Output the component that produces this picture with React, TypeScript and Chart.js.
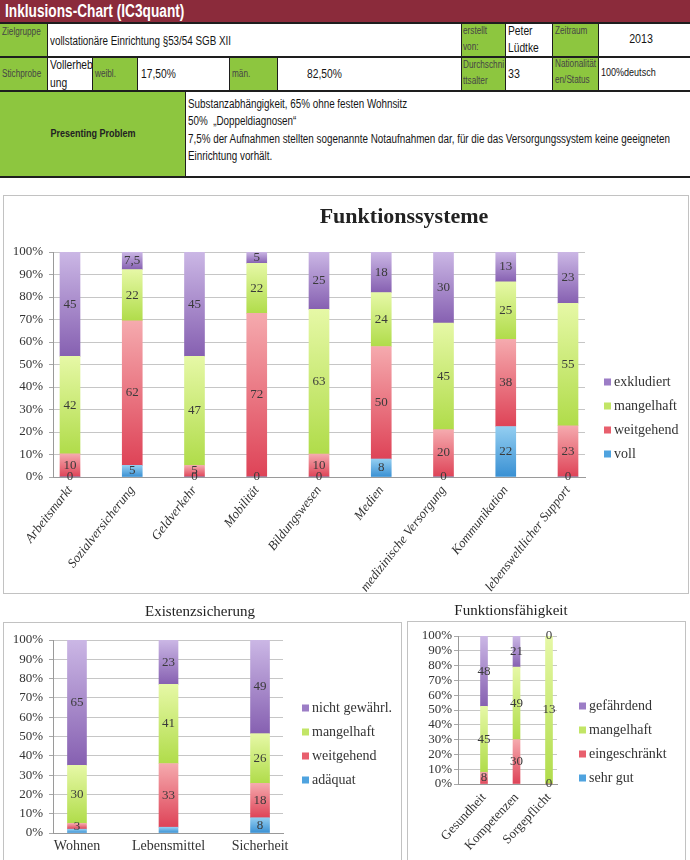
import React, { useEffect, useRef } from 'react';
import { Chart, registerables } from 'chart.js';

Chart.register(...registerables);

const SERIF = '"Liberation Serif", "Times New Roman", serif';
const SANS = '"Liberation Sans", Arial, sans-serif';
Chart.defaults.font.family = SERIF;

// ---------- Funktionssysteme ----------
const fsCategories = [
  'Arbeitsmarkt', 'Sozialversicherung', 'Geldverkehr', 'Mobilität', 'Bildungswesen',
  'Medien', 'medizinische Versorgung', 'Kommunikation', 'lebensweltlicher Support',
];
const fsVoll = [0, 5, 0, 0, 0, 8, 0, 22, 0];
const fsWeitgehend = [10, 62, 5, 72, 10, 50, 20, 38, 23];
const fsMangelhaft = [42, 22, 47, 22, 63, 24, 45, 25, 55];
const fsExkludiert = [45, 7.5, 45, 5, 25, 18, 30, 13, 23];

// ---------- Existenzsicherung ----------
const esCategories = ['Wohnen', 'Lebensmittel', 'Sicherheit'];
const esAdaequat = [2, 3, 8];
const esWeitgehend = [3, 33, 18];
const esMangelhaft = [30, 41, 26];
const esNichtGewaehrl = [65, 23, 49];

// ---------- Funktionsfähigkeit ----------
const ffCategories = ['Gesundheit', 'Kompetenzen', 'Sorgepflicht'];
const ffSehrGut = [null, null, null];
const ffEingeschraenkt = [8, 30, 0];
const ffMangelhaft = [45, 49, 13];
const ffGefaehrdend = [48, 21, 0];

const PAL: Record<string, [string, string, string]> = {
  purple: ['#cbb7e5', '#8660b1', '#9c7dc6'],
  green: ['#e6f8a6', '#b0dc4a', '#c2e566'],
  red: ['#f5aaae', '#de4357', '#e85f6d'],
  blue: ['#93cef1', '#3990d3', '#4fa3df'],
};

function gradientFill(light: string, dark: string) {
  return (c: any) => {
    const chart = c.chart;
    const yScale = chart.scales && chart.scales.y;
    if (c.type !== 'data' || !yScale || !chart.chartArea) return dark;
    const ds = chart.data.datasets;
    const i = c.dataIndex;
    let below = 0;
    for (let k = 0; k < c.datasetIndex; k++) below += (ds[k].data[i] && ds[k].data[i].y) || 0;
    const v = (ds[c.datasetIndex].data[i] && ds[c.datasetIndex].data[i].y) || 0;
    const top = yScale.getPixelForValue(below + v);
    const bottom = yScale.getPixelForValue(below);
    if (!(bottom - top > 0.5)) return dark;
    const g = chart.ctx.createLinearGradient(0, top, 0, bottom);
    g.addColorStop(0, light);
    g.addColorStop(1, dark);
    return g;
  };
}

type SeriesDef = { label: string; values: (number | null)[]; color: [string, string, string]; hidden?: number[] };

function buildDatasets(series: SeriesDef[], barThickness: number) {
  const n = series[0].values.length;
  const totals = Array.from({ length: n }, (_, i) => series.reduce((s, d) => s + (d.values[i] ?? 0), 0));
  return series.map((d) => ({
    label: d.label,
    data: d.values.map((v, i) => ({ x: i, y: v == null ? null : totals[i] ? (v / totals[i]) * 100 : 0 })),
    rawValues: d.values,
    hiddenLabels: d.hidden || [],
    legendColor: d.color[2],
    backgroundColor: gradientFill(d.color[0], d.color[1]),
    borderWidth: 0,
    barThickness,
  }));
}

const valueLabels = {
  id: 'valueLabels',
  afterDatasetsDraw(chart: any, _a: any, opts: any) {
    const ctx = chart.ctx;
    ctx.save();
    ctx.font = opts.font;
    ctx.fillStyle = opts.color;
    ctx.textAlign = 'center';
    ctx.textBaseline = 'middle';
    chart.data.datasets.forEach((ds: any, di: number) => {
      const meta = chart.getDatasetMeta(di);
      meta.data.forEach((el: any, i: number) => {
        const raw = ds.rawValues[i];
        if (raw == null || ds.hiddenLabels.includes(i)) return;
        const p = el.getProps(['x', 'y', 'base'], true);
        if (!isFinite(p.y) || !isFinite(p.base)) return;
        ctx.fillText(String(raw).replace('.', ','), p.x, (p.y + p.base) / 2);
      });
    });
    ctx.restore();
  },
};

const docDecor = {
  id: 'docDecor',
  afterDraw(chart: any, _a: any, opts: any) {
    const ctx = chart.ctx;
    ctx.save();
    if (opts.title) {
      ctx.font = opts.title.font;
      ctx.fillStyle = '#222';
      ctx.textAlign = 'center';
      ctx.textBaseline = 'middle';
      ctx.fillText(opts.title.text, opts.title.x, opts.title.y);
    }
    if (opts.legend) {
      const { x, y, gap, box, font } = opts.legend;
      const items = chart.data.datasets.map((d: any) => ({ label: d.label, color: d.legendColor })).reverse();
      ctx.font = font;
      ctx.textAlign = 'left';
      ctx.textBaseline = 'middle';
      items.forEach((it: any, k: number) => {
        const cy = y + k * gap;
        ctx.fillStyle = it.color;
        ctx.fillRect(x, cy - box / 2, box, box);
        ctx.fillStyle = '#333';
        ctx.fillText(it.label, x + box + 3, cy);
      });
    }
    ctx.restore();
  },
};

type Layout = {
  width: number; height: number; padTop: number; padRight: number;
  yWidth: number; yPadding: number; xHeight: number; xMin: number; xMax: number;
  rotation: number; xFont: any; xPadding: number; barThickness: number;
  title: { text: string; x: number; y: number; font: string };
  legend: { x: number; y: number; gap: number };
};

function makeConfig(categories: string[], series: SeriesDef[], L: Layout): any {
  return {
    type: 'bar',
    data: { datasets: buildDatasets(series, L.barThickness) },
    options: {
      responsive: false,
      animation: false,
      events: [],
      layout: { padding: { top: L.padTop, right: L.padRight, left: 0, bottom: 0 } },
      plugins: {
        legend: { display: false },
        tooltip: { enabled: false },
        title: { display: false },
        docDecor: { title: L.title, legend: { ...L.legend, box: 7, font: `14px ${SERIF}` } },
        valueLabels: { font: `13px ${SERIF}`, color: '#3a3a3a' },
      },
      scales: {
        x: {
          type: 'linear',
          stacked: true,
          bounds: 'data',
          offset: false,
          min: L.xMin,
          max: L.xMax,
          grid: { display: false, drawTicks: false },
          border: { display: true, color: '#9a9a9a' },
          afterBuildTicks: (s: any) => {
            s.ticks = categories.map((_, i) => ({ value: i }));
          },
          ticks: {
            autoSkip: false,
            minRotation: L.rotation,
            maxRotation: L.rotation,
            padding: L.xPadding,
            font: L.xFont,
            color: '#333',
            callback: (v: number) => categories[Math.round(v)] ?? '',
          },
          afterFit: (s: any) => { s.height = L.xHeight; },
        },
        y: {
          stacked: true,
          min: 0,
          max: 100,
          grid: { color: '#c6c6c6', tickLength: 4, tickColor: '#a8a8a8' },
          border: { display: true, color: '#9a9a9a' },
          ticks: {
            stepSize: 10,
            autoSkip: false,
            padding: L.yPadding,
            font: { family: SERIF, size: 13 },
            color: '#333',
            callback: (v: number) => v + '%',
          },
          afterFit: (s: any) => { s.width = L.yWidth; },
        },
      },
    },
    plugins: [docDecor, valueLabels],
  };
}

function ChartCanvas({ left, top, config }: { left: number; top: number; config: () => any }) {
  const ref = useRef<HTMLCanvasElement>(null);
  const cfg = config();
  const w = cfg.__w, h = cfg.__h;
  useEffect(() => {
    const c = config();
    const chart = new Chart(ref.current as HTMLCanvasElement, c);
    return () => chart.destroy();
  }, []);
  return <canvas ref={ref} width={w} height={h} style={{ position: 'absolute', left, top, width: w, height: h }} />;
}

const fsConfig = () => {
  const L: Layout = {
    width: 685, height: 398, padTop: 57, padRight: 103, yWidth: 50, yPadding: 6, xHeight: 116,
    xMin: -0.273, xMax: 8.273, rotation: 52, xFont: { family: SERIF, size: 13, style: 'italic' },
    xPadding: 6, barThickness: 20,
    title: { text: 'Funktionssysteme', x: 401, y: 22, font: `bold 22px ${SERIF}` },
    legend: { x: 601, y: 187, gap: 24 },
  };
  const c = makeConfig(fsCategories, [
    { label: 'voll', values: fsVoll, color: PAL.blue },
    { label: 'weitgehend', values: fsWeitgehend, color: PAL.red },
    { label: 'mangelhaft', values: fsMangelhaft, color: PAL.green },
    { label: 'exkludiert', values: fsExkludiert, color: PAL.purple },
  ], L);
  c.__w = L.width; c.__h = L.height;
  return c;
};

const esConfig = () => {
  const L: Layout = {
    width: 398, height: 260, padTop: 40, padRight: 118, yWidth: 50, yPadding: 6, xHeight: 27,
    xMin: -0.262, xMax: 2.251, rotation: 0, xFont: { family: SERIF, size: 14 },
    xPadding: 5, barThickness: 19,
    title: { text: 'Existenzsicherung', x: 197, y: 12, font: `15px ${SERIF}` },
    legend: { x: 299, y: 108, gap: 24 },
  };
  const c = makeConfig(esCategories, [
    { label: 'adäquat', values: esAdaequat, color: PAL.blue, hidden: [0, 1] },
    { label: 'weitgehend', values: esWeitgehend, color: PAL.red },
    { label: 'mangelhaft', values: esMangelhaft, color: PAL.green },
    { label: 'nicht gewährl.', values: esNichtGewaehrl, color: PAL.purple },
  ], L);
  c.__w = L.width; c.__h = L.height;
  return c;
};

const ffConfig = () => {
  const L: Layout = {
    width: 278, height: 260, padTop: 36, padRight: 128, yWidth: 51, yPadding: 2, xHeight: 76,
    xMin: -0.8, xMax: 2.246, rotation: 47, xFont: { family: SERIF, size: 13 },
    xPadding: 6, barThickness: 7,
    title: { text: 'Funktionsfähigkeit', x: 104, y: 11, font: `15px ${SERIF}` },
    legend: { x: 172, y: 106, gap: 24 },
  };
  const c = makeConfig(ffCategories, [
    { label: 'sehr gut', values: ffSehrGut, color: PAL.blue },
    { label: 'eingeschränkt', values: ffEingeschraenkt, color: PAL.red },
    { label: 'mangelhaft', values: ffMangelhaft, color: PAL.green },
    { label: 'gefährdend', values: ffGefaehrdend, color: PAL.purple },
  ], L);
  c.__w = L.width; c.__h = L.height;
  return c;
};

// ---------- header (HTML table look) ----------
const GREEN = '#8dc63f';
const MAROON = '#8b2b3b';

function Cell({ x, y, w, h, bg }: { x: number; y: number; w: number; h: number; bg: string }) {
  return <div style={{ position: 'absolute', left: x, top: y, width: w, height: h, background: bg }} />;
}

function T({ x, cy, size = 12, color = '#151515', bold = false, sx = 0.82, center = false, children }: any) {
  const lh = Math.round(size * 1.2);
  return (
    <div
      style={{
        position: 'absolute', left: x, top: cy - lh / 2, fontFamily: SANS, fontSize: size, lineHeight: lh + 'px',
        color, fontWeight: bold ? 700 : 400, whiteSpace: 'pre',
        transform: center ? `translateX(-50%) scaleX(${sx})` : `scaleX(${sx})`,
        transformOrigin: center ? 'center top' : 'left top',
      }}
    >
      {children}
    </div>
  );
}

const LBL = '#454545';

function Header() {
  return (
    <>
      <div style={{ position: 'absolute', left: 0, top: 22, width: 690, height: 156, background: '#1e1e1e' }} />
      <Cell x={0} y={0} w={690} h={22} bg={MAROON} />
      <T x={5} cy={11} size={18} bold color="#fff" sx={0.76}>Inklusions-Chart (IC3quant)</T>

      {/* row 1 */}
      <Cell x={0} y={24} w={47} h={32} bg={GREEN} />
      <Cell x={48} y={24} w={413} h={32} bg="#fff" />
      <Cell x={462} y={24} w={43} h={32} bg={GREEN} />
      <Cell x={506} y={24} w={46} h={32} bg="#fff" />
      <Cell x={553} y={24} w={45} h={32} bg={GREEN} />
      <Cell x={599} y={24} w={91} h={32} bg="#fff" />
      <T x={2} cy={32} size={10} color={LBL}>Zielgruppe</T>
      <T x={50} cy={41} size={12}>vollstationäre Einrichtung §53/54 SGB XII</T>
      <T x={463} cy={31} size={10} color={LBL}>erstellt</T>
      <T x={463} cy={47} size={10} color={LBL}>von:</T>
      <T x={508} cy={31} size={12.5}>Peter</T>
      <T x={508} cy={48} size={12.5}>Lüdtke</T>
      <T x={555} cy={31} size={10} color={LBL}>Zeitraum</T>
      <T x={641} cy={39} size={13} center>2013</T>

      {/* row 2 */}
      <Cell x={0} y={58} w={47} h={32} bg={GREEN} />
      <Cell x={48} y={58} w={44} h={32} bg="#fff" />
      <Cell x={93} y={58} w={44} h={32} bg={GREEN} />
      <Cell x={138} y={58} w={91} h={32} bg="#fff" />
      <Cell x={230} y={58} w={47} h={32} bg={GREEN} />
      <Cell x={278} y={58} w={183} h={32} bg="#fff" />
      <Cell x={462} y={58} w={43} h={32} bg={GREEN} />
      <Cell x={506} y={58} w={46} h={32} bg="#fff" />
      <Cell x={553} y={58} w={45} h={32} bg={GREEN} />
      <Cell x={599} y={58} w={91} h={32} bg="#fff" />
      <T x={2} cy={74} size={10} color={LBL}>Stichprobe</T>
      <T x={50} cy={65} size={12.5}>Vollerheb</T>
      <T x={50} cy={83} size={12.5}>ung</T>
      <T x={95} cy={74} size={10} color={LBL}>weibl.</T>
      <T x={141} cy={74} size={12.5}>17,50%</T>
      <T x={232} cy={74} size={10} color={LBL}>män.</T>
      <T x={307} cy={74} size={12.5}>82,50%</T>
      <T x={463} cy={65} size={10} color={LBL}>Durchschni</T>
      <T x={463} cy={81} size={10} color={LBL}>ttsalter</T>
      <T x={508} cy={74} size={13}>33</T>
      <T x={555} cy={64} size={10} color={LBL}>Nationalität</T>
      <T x={555} cy={80} size={10} color={LBL}>en/Status</T>
      <T x={601} cy={72} size={11}>100%deutsch</T>

      {/* row 3 */}
      <Cell x={0} y={92} w={185} h={84} bg={GREEN} />
      <Cell x={186} y={92} w={504} h={84} bg="#fff" />
      <T x={93} cy={133} size={11} bold color="#222" center>Presenting Problem</T>
      <T x={188} cy={104} size={12}>Substanzabhängigkeit, 65% ohne festen Wohnsitz</T>
      <T x={188} cy={121} size={12}>50%  „Doppeldiagnosen“</T>
      <T x={188} cy={139} size={12}>7,5% der Aufnahmen stellten sogenannte Notaufnahmen dar, für die das Versorgungssystem keine geeigneten</T>
      <T x={188} cy={156} size={12}>Einrichtung vorhält.</T>
    </>
  );
}

export default function App() {
  return (
    <div style={{ position: 'absolute', left: 0, top: 0, width: 690, height: 860, overflow: 'hidden', background: '#fff' }}>
      <Header />
      {/* chart frames */}
      <div style={{ position: 'absolute', left: 3, top: 195, width: 684, height: 397, border: '1px solid #c2c2c2' }} />
      <div style={{ position: 'absolute', left: 3, top: 622, width: 397, height: 260, border: '1px solid #c2c2c2' }} />
      <div style={{ position: 'absolute', left: 407, top: 621, width: 277, height: 260, border: '1px solid #c2c2c2' }} />
      <ChartCanvas left={3} top={195} config={fsConfig} />
      <ChartCanvas left={3} top={600} config={esConfig} />
      <ChartCanvas left={407} top={600} config={ffConfig} />
    </div>
  );
}
